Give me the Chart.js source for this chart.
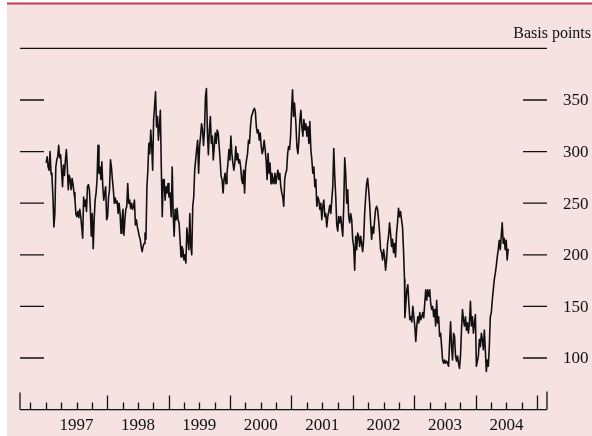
<!DOCTYPE html>
<html>
<head>
<meta charset="utf-8">
<script src="https://cdn.jsdelivr.net/npm/chart.js@4"></script>
<style>
  html, body { margin: 0; padding: 0; background: #ffffff; }
  canvas { display: block; }
</style>
</head>
<body>
<canvas id="spreadChart" width="592" height="436"></canvas>
<script>
// Spread, basis points. Each period array is a run of evenly spaced
// observations between the given start and end dates (decimal years).
const yTicks = [100, 150, 200, 250, 300, 350];
const yearLabels = ['1997', '1998', '1999', '2000', '2001', '2002', '2003', '2004'];
const unitLabel = 'Basis points';

const period1 = { start: 1997.007, end: 1999.021 };
const spread1997to1998 = [
  289, 295, 285, 282, 300, 279, 276, 256, 227, 240, 285, 292, 295, 306, 294, 297, 282, 266, 287, 277,
  292, 302, 285, 263, 277, 273, 263, 274, 268, 260, 253, 239, 237, 242, 236, 244, 237, 227, 216, 256,
  247, 253, 242, 266, 268, 263, 245, 218, 240, 206, 234, 253, 260, 273, 306, 279, 285, 273, 290, 266,
  253, 260, 266, 234, 237, 256, 263, 292, 285, 273, 263, 250, 255, 250, 252, 240, 250, 240, 221, 234,
  244, 219, 234, 244, 247, 269, 250, 253, 245, 250, 244, 247, 253, 229, 234, 227, 223, 218, 215, 208,
  203, 208, 211, 221, 215, 266, 282, 308, 298, 321, 305, 282, 331, 344, 358, 324, 334, 311, 324, 340,
  285, 237, 273, 273, 253, 266, 260, 269, 256, 260
];

const period2 = { start: 1999.026, end: 2001.049 };
const spread1999to2000 = [
  256, 237, 285, 240, 218, 244, 234, 245, 234, 231, 215, 198, 208, 205, 195, 200, 192, 226, 215, 205,
  240, 208, 200, 247, 256, 282, 292, 302, 311, 279, 305, 315, 327, 321, 306, 321, 353, 361, 318, 297,
  321, 334, 308, 315, 292, 305, 318, 308, 321, 318, 305, 292, 276, 273, 260, 273, 279, 269, 279, 289,
  302, 292, 315, 298, 289, 282, 289, 305, 292, 298, 289, 292, 285, 273, 269, 282, 260, 285, 292, 298,
  311, 308, 324, 334, 337, 340, 342, 339, 324, 318, 321, 311, 318, 305, 298, 302, 311, 302, 292, 273,
  298, 279, 289, 269, 279, 273, 269, 279, 269, 276, 282, 273, 279, 266, 260, 256, 247, 273, 279, 282,
  298, 305, 302, 315, 340, 360, 334, 347
];

const period3 = { start: 2001.072, end: 2002.840 };
const spread2001to2002 = [
  327, 305, 298, 311, 331, 340, 324, 315, 331, 321, 327, 315, 324, 308, 329, 302, 292, 279, 285, 266,
  273, 247, 256, 253, 244, 250, 234, 247, 253, 237, 240, 227, 237, 242, 248, 240, 253, 266, 303, 276,
  256, 229, 223, 237, 231, 237, 227, 218, 247, 294, 279, 250, 263, 237, 231, 240, 234, 215, 208, 185,
  218, 205, 221, 218, 208, 218, 211, 203, 215, 240, 256, 269, 274, 263, 250, 231, 215, 227, 221, 234,
  244, 247, 244, 234, 221, 205, 202, 195, 205, 198, 185, 195, 211, 218, 231, 221, 208, 215, 202, 211,
  198, 221, 231, 245, 237, 242, 234, 227, 205, 176
];

const period4 = { start: 2002.846, end: 2004.528 };
const spread2002to2004 = [
  139, 153, 166, 171, 153, 137, 140, 135, 150, 140, 131, 116, 131, 140, 134, 144, 137, 140, 144, 139,
  153, 166, 156, 166, 160, 166, 153, 147, 150, 140, 147, 131, 156, 134, 140, 121, 124, 111, 98, 95,
  98, 95, 97, 95, 92, 115, 135, 111, 98, 124, 121, 102, 97, 102, 95, 90, 102, 127, 147, 137,
  131, 140, 127, 134, 124, 134, 155, 131, 140, 124, 134, 142, 92, 97, 102, 118, 111, 124, 118, 108,
  127, 108, 87, 98, 92, 111, 140, 144, 156, 166, 176, 182, 189, 198, 205, 214, 205, 218, 231, 211,
  216, 205, 214, 195, 206
];

// Place each period's observations on the time axis.
function toPoints(period, values) {
  const n = values.length;
  return values.map((v, i) => ({
    x: period.start + (period.end - period.start) * (n > 1 ? i / (n - 1) : 0),
    y: v
  }));
}

const points = [].concat(
  toPoints(period1, spread1997to1998),
  toPoints(period2, spread1999to2000),
  toPoints(period3, spread2001to2002),
  toPoints(period4, spread2002to2004)
);

const PINK = '#f5e2e1';
const RED = '#c13a4f';
const INK = '#111111';
const SERIF = '"Liberation Serif", "Times New Roman", "DejaVu Serif", serif';

const framePlugin = {
  id: 'frame',
  beforeDraw(chart) {
    const ctx = chart.ctx;
    const W = chart.width, H = chart.height;
    ctx.save();
    ctx.fillStyle = '#ffffff';
    ctx.fillRect(0, 0, W, H);
    ctx.fillStyle = PINK;
    ctx.fillRect(7, 3, W - 7, H - 3);
    ctx.fillStyle = RED;
    ctx.fillRect(7, 2.5, W - 7, 2);
    ctx.restore();
  },
  beforeDatasetsDraw(chart) {
    const ctx = chart.ctx;
    const xs = chart.scales.x, ys = chart.scales.y;
    const left = chart.chartArea.left, right = chart.chartArea.right;
    ctx.save();
    ctx.strokeStyle = INK;
    ctx.fillStyle = INK;
    ctx.lineWidth = 1.3;

    // top rule at the scale maximum
    const yTop = ys.getPixelForValue(ys.max);
    ctx.beginPath();
    ctx.moveTo(left, yTop);
    ctx.lineTo(right, yTop);
    ctx.stroke();

    // unit label
    ctx.font = '16px ' + SERIF;
    ctx.textAlign = 'right';
    ctx.textBaseline = 'alphabetic';
    ctx.fillText(unitLabel, 591, 38);

    // value ticks on both sides, labels on the right
    ctx.font = '17px ' + SERIF;
    ctx.textAlign = 'left';
    ctx.textBaseline = 'middle';
    yTicks.forEach(v => {
      const y = ys.getPixelForValue(v);
      ctx.beginPath();
      ctx.moveTo(left, y); ctx.lineTo(left + 24, y);
      ctx.moveTo(right - 24, y); ctx.lineTo(right, y);
      ctx.stroke();
      ctx.fillText(String(v), 563, y + 1);
    });

    // time axis
    const yBase = ys.getPixelForValue(ys.min);
    ctx.beginPath();
    ctx.moveTo(left, yBase);
    ctx.lineTo(right, yBase);
    ctx.stroke();

    ctx.beginPath();
    for (let q = 1996.75; q <= 2005.001; q += 0.25) {
      const x = Math.round(xs.getPixelForValue(q)) + 0.5;
      const isYear = Math.abs(q - Math.round(q)) < 1e-6 && Math.round(q) >= 1998;
      const len = isYear ? 14 : 7;
      ctx.moveTo(x, yBase);
      ctx.lineTo(x, yBase - len);
    }
    // end ticks
    ctx.moveTo(left, yBase); ctx.lineTo(left, yBase - 17);
    ctx.moveTo(right, yBase); ctx.lineTo(right, yBase - 18);
    ctx.stroke();

    ctx.textAlign = 'center';
    ctx.textBaseline = 'alphabetic';
    yearLabels.forEach(lbl => {
      const x = xs.getPixelForValue(Number(lbl) + 0.5);
      ctx.fillText(lbl, x, 430);
    });
    ctx.restore();
  }
};

new Chart(document.getElementById('spreadChart').getContext('2d'), {
  type: 'line',
  data: {
    datasets: [{
      data: points,
      borderColor: INK,
      borderWidth: 1.6,
      borderJoinStyle: 'round',
      pointRadius: 0,
      tension: 0,
      fill: false
    }]
  },
  options: {
    responsive: false,
    animation: false,
    devicePixelRatio: 1,
    layout: { padding: { left: 20, right: 45, top: 48.4, bottom: 26.4 } },
    scales: {
      x: { type: 'linear', min: 1996.58, max: 2005.16, display: false },
      y: { type: 'linear', min: 50, max: 400, display: false }
    },
    plugins: {
      legend: { display: false },
      tooltip: { enabled: false }
    }
  },
  plugins: [framePlugin]
});
</script>
</body>
</html>
